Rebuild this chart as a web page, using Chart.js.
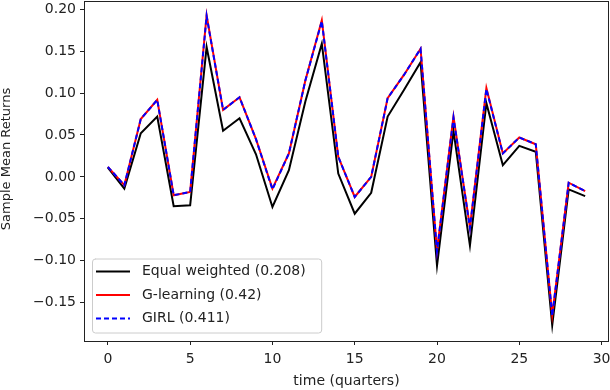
<!DOCTYPE html>
<html>
<head>
<meta charset="utf-8">
<script src="https://cdn.jsdelivr.net/npm/chart.js@4/dist/chart.umd.min.js"></script>
<style>
  html, body { margin: 0; padding: 0; background: #fff; }
  #wrap { width: 610px; height: 390px; }
</style>
</head>
<body>
<div id="wrap"><canvas id="c" width="610" height="390"></canvas></div>
<script>
// ---- data ----
const quarters = [0,1,2,3,4,5,6,7,8,9,10,11,12,13,14,15,16,17,18,19,20,21,22,23,24,25,26,27,28,29];
const equalWeighted = [0.011,-0.014,0.052,0.072,-0.035,-0.034,0.155,0.055,0.070,0.027,-0.036,0.008,0.090,0.159,0.004,-0.044,-0.019,0.072,0.104,0.137,-0.106,0.055,-0.082,0.088,0.014,0.037,0.030,-0.177,-0.015,-0.023];
const gLearning = [0.012,-0.010,0.069,0.092,-0.022,-0.018,0.193,0.080,0.095,0.045,-0.014,0.028,0.115,0.187,0.024,-0.024,0.000,0.094,0.122,0.153,-0.088,0.072,-0.060,0.106,0.028,0.047,0.039,-0.165,-0.007,-0.017];
const girl = [0.012,-0.010,0.069,0.092,-0.022,-0.018,0.192,0.080,0.095,0.045,-0.015,0.028,0.115,0.186,0.024,-0.024,0.000,0.094,0.122,0.153,-0.089,0.071,-0.061,0.105,0.028,0.047,0.039,-0.166,-0.007,-0.017];
const seriesLabels = ['Equal weighted (0.208)', 'G-learning (0.42)', 'GIRL (0.411)'];
const xTicks = [0,5,10,15,20,25,30];
const yTicks = [-0.15,-0.10,-0.05,0.00,0.05,0.10,0.15,0.20];
const xTitle = 'time (quarters)';
const yTitle = 'Sample Mean Returns';

const FONT = "'DejaVu Sans', sans-serif";
const toPts = (ys) => quarters.map((q, i) => ({x: q, y: ys[i]}));

const frame = {
  id: 'frame',
  afterDatasetsDraw(chart) {
    const {ctx, chartArea: a} = chart;
    ctx.save();
    ctx.strokeStyle = '#222';
    ctx.lineWidth = 1;
    ctx.strokeRect(Math.round(a.left) + 0.5, Math.round(a.top) + 0.5,
                   Math.round(a.right - a.left) - 1, Math.round(a.bottom - a.top));
    ctx.restore();
  }
};

const yTitlePlugin = {
  id: 'yTitlePlugin',
  afterDraw(chart) {
    const {ctx} = chart;
    ctx.save();
    ctx.translate(7, 159);
    ctx.rotate(-Math.PI / 2);
    ctx.font = '13px ' + FONT;
    ctx.fillStyle = '#222';
    ctx.textAlign = 'center';
    ctx.textBaseline = 'middle';
    ctx.fillText(yTitle, 0, 0);
    ctx.restore();
  }
};

const boxLegend = {
  id: 'boxLegend',
  afterDraw(chart) {
    const {ctx, chartArea: a} = chart;
    const ds = chart.data.datasets;
    ctx.save();
    ctx.font = '14px ' + FONT;
    let tw = 0;
    ds.forEach(d => { tw = Math.max(tw, ctx.measureText(d.label).width); });
    const x0 = a.left + 8, rowH = 23.5;
    const w = 12 + 34 + 12 + tw + 8;
    const h = ds.length * rowH + 4;
    const y0 = a.bottom - 8 - h;
    ctx.fillStyle = 'rgba(255,255,255,0.8)';
    ctx.strokeStyle = '#cccccc';
    ctx.lineWidth = 1;
    const r = 3;
    ctx.beginPath();
    ctx.moveTo(x0 + r, y0 + 0.5);
    ctx.arcTo(x0 + w, y0 + 0.5, x0 + w, y0 + h, r);
    ctx.arcTo(x0 + w, y0 + h, x0, y0 + h, r);
    ctx.arcTo(x0 + 0.5, y0 + h, x0 + 0.5, y0, r);
    ctx.arcTo(x0 + 0.5, y0 + 0.5, x0 + w, y0 + 0.5, r);
    ctx.closePath();
    ctx.fill();
    ctx.stroke();
    ds.forEach((d, i) => {
      const cy = y0 + 13 + i * rowH;
      ctx.beginPath();
      ctx.strokeStyle = d.borderColor;
      ctx.lineWidth = 2;
      ctx.setLineDash(d.borderDash || []);
      ctx.moveTo(x0 + 4, cy);
      ctx.lineTo(x0 + 38, cy);
      ctx.stroke();
      ctx.setLineDash([]);
      ctx.fillStyle = '#222';
      ctx.textBaseline = 'middle';
      ctx.textAlign = 'left';
      ctx.fillText(d.label, x0 + 50, cy);
    });
    ctx.restore();
  }
};

const fmtY = v => (v < 0 ? '\u2212' : '') + Math.abs(v).toFixed(2);

new Chart(document.getElementById('c'), {
  type: 'line',
  data: {
    datasets: [
      {label: seriesLabels[0], data: toPts(equalWeighted), borderColor: '#000000', borderWidth: 2, order: 3},
      {label: seriesLabels[1], data: toPts(gLearning), borderColor: '#ff0000', borderWidth: 2, order: 2},
      {label: seriesLabels[2], data: toPts(girl), borderColor: '#0000ff', borderWidth: 2, borderDash: [5, 3], order: 1}
    ]
  },
  options: {
    responsive: false,
    animation: false,
    devicePixelRatio: 1,
    elements: { point: { radius: 0 }, line: { tension: 0, fill: false } },
    layout: { padding: { top: 1, right: 1, left: 0, bottom: 0 } },
    plugins: { legend: { display: false }, tooltip: { enabled: false } },
    scales: {
      x: {
        type: 'linear',
        min: -1.45, max: 30.45,
        afterBuildTicks: s => { s.ticks = xTicks.map(v => ({value: v})); },
        afterFit: s => { s.height = 49; s.paddingLeft = 0; s.paddingRight = 0; },
        grid: { drawOnChartArea: false, drawTicks: true, tickLength: 4, tickColor: '#222' },
        border: { display: false },
        ticks: { color: '#222', font: { family: FONT, size: 14 }, padding: 6, maxRotation: 0,
                 callback: v => String(v) },
        title: { display: true, text: xTitle, color: '#222',
                 font: { family: FONT, size: 14 }, padding: { top: 0, bottom: 0 } }
      },
      y: {
        min: -0.196, max: 0.21,
        afterBuildTicks: s => { s.ticks = yTicks.map(v => ({value: v})); },
        afterFit: s => { s.width = 84; s.paddingTop = 0; s.paddingBottom = 0; },
        grid: { drawOnChartArea: false, drawTicks: true, tickLength: 4, tickColor: '#222' },
        border: { display: false },
        ticks: { color: '#222', font: { family: FONT, size: 14 }, padding: 4,
                 callback: v => fmtY(v) },
        title: { display: false }
      }
    }
  },
  plugins: [frame, yTitlePlugin, boxLegend]
});
</script>
</body>
</html>
